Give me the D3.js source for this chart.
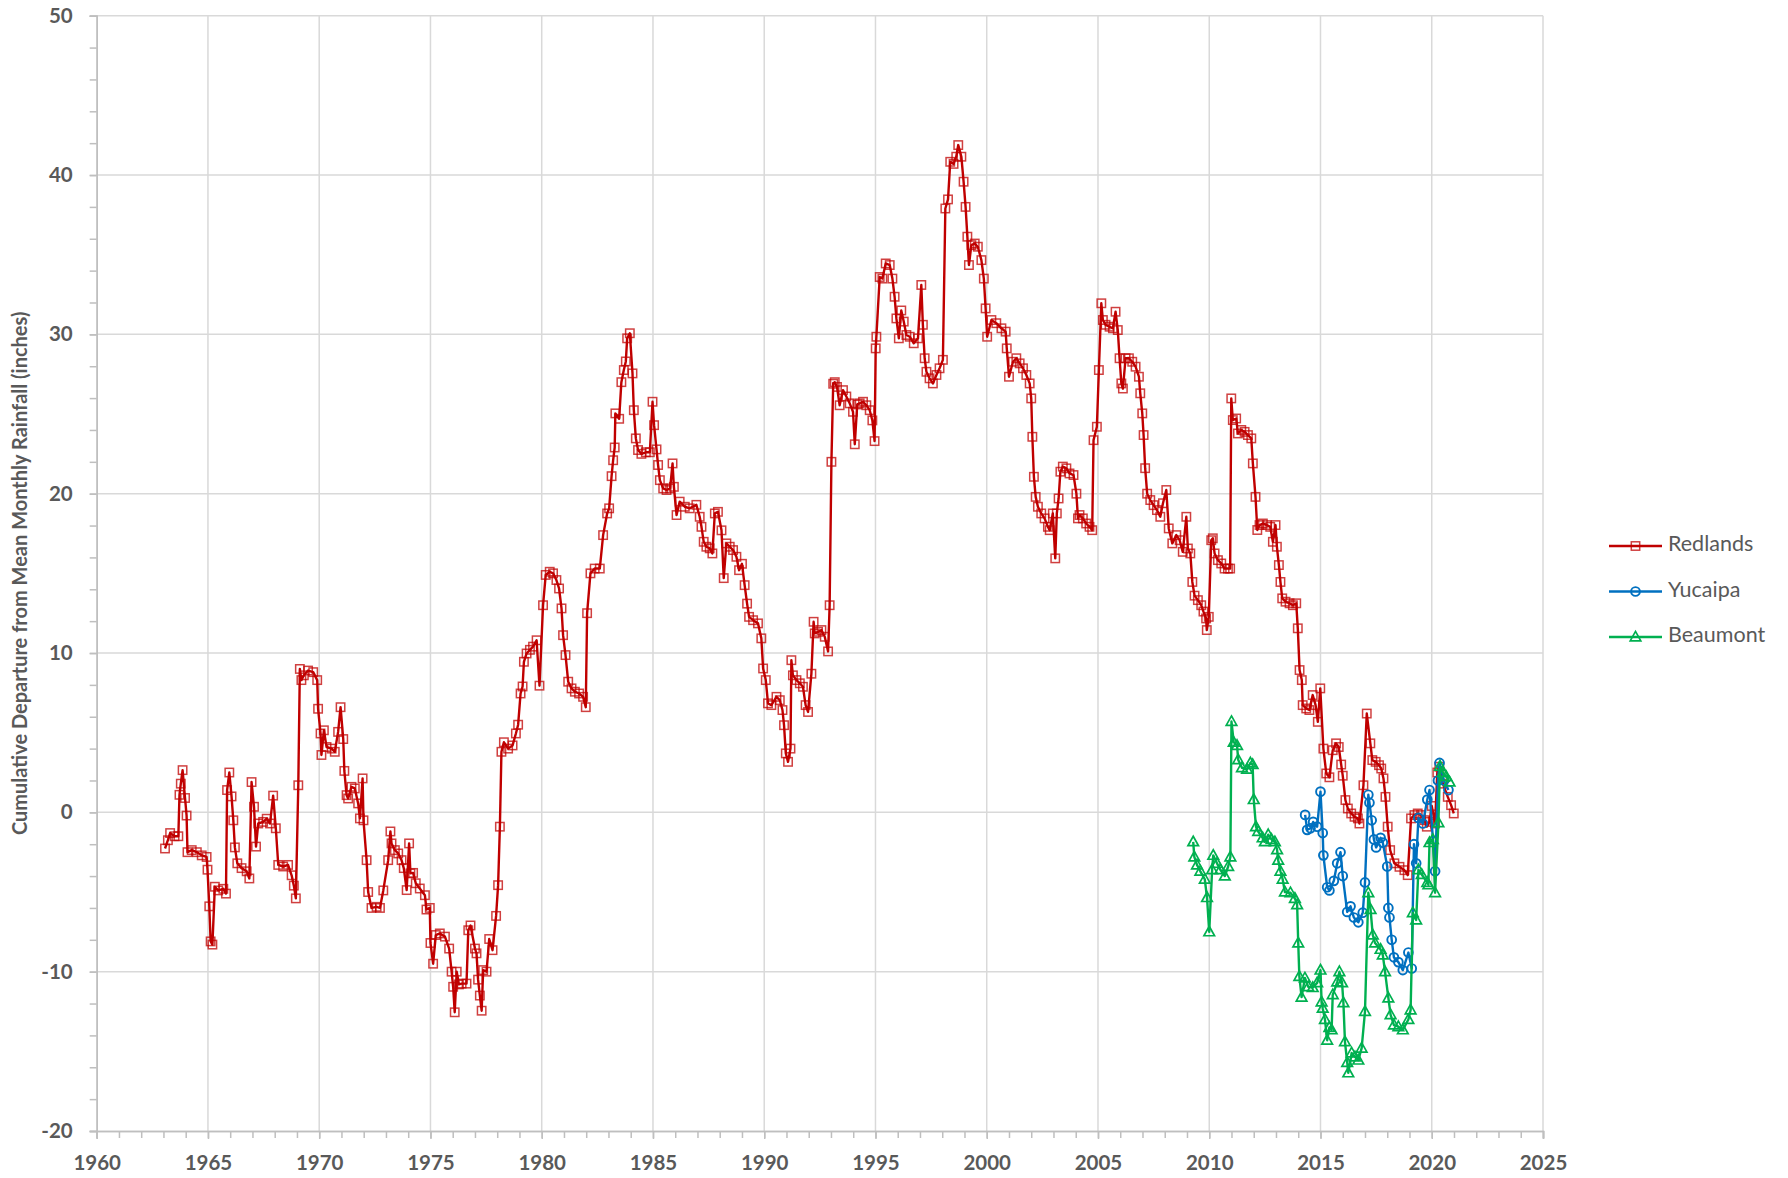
<!DOCTYPE html>
<html>
<head>
<meta charset="utf-8">
<script src="https://cdn.jsdelivr.net/npm/d3@7"></script>
<style>
  body { margin: 0; background: #fff; }
  text { font-family: Lato, "Open Sans", sans-serif; fill: #595959; }
  .axis text { font-weight: bold; font-size: 20.5px; }
  .axis path, .axis line { stroke: #BFBFBF; stroke-width: 1.5; }
  .grid line { stroke: #D9D9D9; stroke-width: 1.5; }
</style>
</head>
<body>
<div class="chart-container"></div>
<script>
// [year, cumulative departure (inches)]
const redlands = [
  [1963.07,-2.27],[1963.2,-1.75],[1963.3,-1.3],[1963.5,-1.5],[1963.67,-1.5],[1963.72,1.1],[1963.78,1.8],[1963.86,2.65],
  [1963.97,0.9],[1964.04,-0.2],[1964.08,-2.5],[1964.27,-2.37],[1964.5,-2.5],[1964.72,-2.7],[1964.94,-2.8],[1964.98,-3.6],
  [1965.06,-5.9],[1965.12,-8.1],[1965.2,-8.3],[1965.31,-4.67],[1965.46,-4.9],[1965.69,-4.8],[1965.81,-5.1],[1965.86,1.4],
  [1965.96,2.5],[1966.06,1.0],[1966.14,-0.5],[1966.21,-2.2],[1966.32,-3.2],[1966.51,-3.5],[1966.74,-3.7],[1966.86,-4.15],
  [1966.96,1.9],[1967.07,0.35],[1967.16,-2.15],[1967.26,-0.7],[1967.48,-0.6],[1967.64,-0.4],[1967.79,-0.7],[1967.93,1.05],
  [1968.05,-1.0],[1968.16,-3.3],[1968.38,-3.4],[1968.6,-3.3],[1968.76,-3.95],[1968.86,-4.6],[1968.95,-5.4],[1969.06,1.7],
  [1969.13,9.0],[1969.2,8.3],[1969.31,8.6],[1969.5,8.9],[1969.73,8.8],[1969.91,8.3],[1969.95,6.5],[1970.06,4.95],
  [1970.1,3.6],[1970.21,5.15],[1970.33,4.1],[1970.56,4.0],[1970.7,3.8],[1970.85,5.05],[1970.96,6.6],[1971.08,4.6],
  [1971.13,2.6],[1971.23,1.08],[1971.3,0.87],[1971.45,1.6],[1971.6,1.5],[1971.75,0.56],[1971.83,-0.38],[1971.95,2.13],
  [1971.99,-0.5],[1972.13,-3.0],[1972.2,-5.0],[1972.35,-6.0],[1972.58,-5.93],[1972.73,-6.0],[1972.88,-4.9],[1973.1,-3.0],
  [1973.2,-1.2],[1973.25,-1.95],[1973.4,-2.37],[1973.55,-2.58],[1973.7,-3.0],[1973.8,-3.5],[1973.93,-4.88],[1974.04,-1.95],
  [1974.1,-3.83],[1974.22,-3.8],[1974.34,-4.45],[1974.52,-4.78],[1974.75,-5.2],[1974.82,-6.1],[1974.97,-6.0],[1975.0,-8.2],
  [1975.12,-9.5],[1975.24,-7.7],[1975.42,-7.6],[1975.65,-7.8],[1975.84,-8.55],[1975.95,-10.0],[1976.02,-10.95],[1976.09,-12.55],
  [1976.18,-10.0],[1976.28,-10.8],[1976.4,-10.75],[1976.62,-10.75],[1976.7,-7.4],[1976.8,-7.1],[1977.0,-8.55],[1977.07,-8.85],
  [1977.14,-10.5],[1977.22,-11.5],[1977.3,-12.45],[1977.37,-9.9],[1977.52,-10.0],[1977.64,-7.95],[1977.79,-8.65],[1977.95,-6.5],
  [1978.04,-4.57],[1978.12,-0.9],[1978.19,3.8],[1978.3,4.4],[1978.49,4.0],[1978.69,4.2],[1978.84,4.95],[1978.94,5.5],
  [1979.05,7.46],[1979.14,7.9],[1979.2,9.45],[1979.32,9.97],[1979.47,10.2],[1979.61,10.4],[1979.77,10.8],[1979.9,7.95],
  [1980.06,13.0],[1980.18,14.9],[1980.36,15.1],[1980.51,15.0],[1980.66,14.58],[1980.78,14.05],[1980.89,12.8],[1980.96,11.12],
  [1981.07,9.87],[1981.19,8.2],[1981.34,7.78],[1981.49,7.57],[1981.68,7.46],[1981.86,7.25],[1981.98,6.6],[1982.04,12.5],
  [1982.19,15.0],[1982.38,15.3],[1982.61,15.3],[1982.76,17.4],[1982.94,18.76],[1983.03,19.08],[1983.14,21.1],[1983.21,22.1],
  [1983.28,22.9],[1983.31,25.04],[1983.48,24.7],[1983.58,27.0],[1983.69,27.76],[1983.78,28.3],[1983.84,29.75],[1983.96,30.07],
  [1984.08,27.55],[1984.14,25.24],[1984.23,23.47],[1984.33,22.74],[1984.48,22.5],[1984.68,22.6],[1984.86,22.6],[1984.98,25.77],
  [1985.05,24.3],[1985.16,22.78],[1985.23,21.8],[1985.31,20.85],[1985.46,20.33],[1985.61,20.23],[1985.77,20.33],[1985.88,21.9],
  [1985.94,20.43],[1986.06,18.66],[1986.2,19.5],[1986.43,19.18],[1986.65,19.08],[1986.95,19.3],[1987.1,18.55],[1987.18,17.92],
  [1987.28,16.98],[1987.4,16.67],[1987.55,16.57],[1987.67,16.25],[1987.78,18.76],[1987.92,18.86],[1988.08,17.7],[1988.18,14.7],
  [1988.3,16.88],[1988.45,16.67],[1988.6,16.46],[1988.75,16.04],[1988.87,15.2],[1989.0,15.6],[1989.12,14.26],[1989.23,13.1],
  [1989.32,12.27],[1989.5,12.06],[1989.72,11.86],[1989.87,10.92],[1989.95,9.03],[1990.07,8.3],[1990.17,6.84],[1990.32,6.73],
  [1990.55,7.25],[1990.7,7.04],[1990.82,6.42],[1990.89,5.47],[1990.97,3.7],[1991.07,3.17],[1991.18,4.0],[1991.22,9.55],
  [1991.29,8.6],[1991.45,8.3],[1991.6,8.1],[1991.74,7.88],[1991.86,6.73],[1991.97,6.3],[1992.12,8.7],[1992.22,11.96],
  [1992.27,11.23],[1992.42,11.33],[1992.57,11.44],[1992.72,11.02],[1992.87,10.1],[1992.94,13.0],[1993.02,22.0],[1993.1,26.9],
  [1993.17,27.0],[1993.27,26.7],[1993.39,25.55],[1993.54,26.5],[1993.69,26.1],[1993.84,25.67],[1993.99,25.14],[1994.07,23.1],
  [1994.18,25.6],[1994.29,25.67],[1994.44,25.77],[1994.59,25.55],[1994.74,25.24],[1994.86,24.6],[1994.96,23.3],[1995.01,29.12],
  [1995.04,29.85],[1995.19,33.6],[1995.31,33.5],[1995.46,34.45],[1995.64,34.35],[1995.76,33.5],[1995.86,32.36],[1995.94,31.0],
  [1996.05,29.75],[1996.16,31.5],[1996.27,30.8],[1996.39,29.96],[1996.54,29.85],[1996.72,29.44],[1996.91,29.75],[1997.06,33.1],
  [1997.13,30.6],[1997.21,28.5],[1997.29,27.65],[1997.43,27.24],[1997.58,26.92],[1997.74,27.45],[1997.88,27.87],[1998.03,28.4],
  [1998.14,37.9],[1998.26,38.47],[1998.36,40.83],[1998.51,40.7],[1998.63,41.15],[1998.72,41.88],[1998.86,41.15],[1998.96,39.58],
  [1999.05,38.0],[1999.13,36.13],[1999.2,34.35],[1999.31,35.6],[1999.46,35.7],[1999.6,35.5],[1999.76,34.66],[1999.87,33.5],
  [1999.95,31.63],[2000.02,29.85],[2000.21,30.9],[2000.43,30.7],[2000.66,30.38],[2000.85,30.17],[2000.9,29.12],[2001.0,27.34],
  [2001.18,28.28],[2001.33,28.5],[2001.48,28.18],[2001.63,27.87],[2001.78,27.45],[2001.93,26.92],[2002.0,25.98],[2002.05,23.57],
  [2002.12,21.06],[2002.2,19.8],[2002.3,19.18],[2002.45,18.76],[2002.6,18.45],[2002.75,17.92],[2002.83,17.71],[2002.97,18.76],
  [2003.08,15.94],[2003.15,18.76],[2003.23,19.7],[2003.31,21.38],[2003.42,21.7],[2003.58,21.59],[2003.72,21.27],[2003.9,21.17],
  [2004.03,20.0],[2004.1,18.45],[2004.17,18.66],[2004.32,18.45],[2004.47,18.13],[2004.62,17.92],[2004.74,17.71],[2004.8,23.36],
  [2004.95,24.2],[2005.04,27.76],[2005.15,31.95],[2005.22,30.9],[2005.34,30.6],[2005.52,30.48],[2005.67,30.38],[2005.79,31.42],
  [2005.89,30.27],[2005.97,28.5],[2006.05,26.92],[2006.12,26.6],[2006.24,28.5],[2006.39,28.5],[2006.54,28.28],[2006.69,27.97],
  [2006.84,27.34],[2006.9,26.3],[2006.99,25.04],[2007.05,23.68],[2007.12,21.6],[2007.21,20.0],[2007.35,19.6],[2007.5,19.28],
  [2007.65,18.97],[2007.8,18.55],[2007.92,19.4],[2008.07,20.23],[2008.18,17.82],[2008.34,16.88],[2008.52,17.4],[2008.67,17.08],
  [2008.81,16.35],[2008.97,18.55],[2009.04,16.56],[2009.15,16.25],[2009.24,14.46],[2009.34,13.6],[2009.49,13.32],[2009.64,13.0],
  [2009.74,12.6],[2009.86,12.17],[2009.89,11.44],[2009.98,12.27],[2010.09,17.08],[2010.16,17.2],[2010.24,16.25],[2010.39,15.83],
  [2010.54,15.62],[2010.69,15.3],[2010.84,15.3],[2010.94,15.3],[2010.99,25.98],[2011.06,24.62],[2011.21,24.72],[2011.29,23.78],
  [2011.44,24.0],[2011.59,23.88],[2011.74,23.68],[2011.89,23.47],[2011.96,21.9],[2012.08,19.8],[2012.16,17.72],[2012.26,18.03],
  [2012.41,18.13],[2012.59,18.03],[2012.74,17.92],[2012.86,16.98],[2012.98,18.03],[2013.04,16.67],[2013.13,15.52],[2013.2,14.46],
  [2013.28,13.43],[2013.43,13.22],[2013.61,13.12],[2013.76,13.0],[2013.91,13.12],[2013.98,11.55],[2014.06,8.93],[2014.16,8.3],
  [2014.2,6.73],[2014.36,6.52],[2014.5,6.42],[2014.65,7.36],[2014.78,6.73],[2014.88,5.68],[2014.99,7.78],[2015.13,4.0],
  [2015.26,2.44],[2015.4,2.2],[2015.55,3.9],[2015.7,4.33],[2015.82,4.1],[2015.93,3.0],[2016.0,2.3],[2016.12,0.77],
  [2016.23,0.24],[2016.38,-0.07],[2016.53,-0.28],[2016.68,-0.38],[2016.75,-0.7],[2016.93,1.7],[2017.08,6.2],[2017.24,4.33],
  [2017.33,3.28],[2017.48,3.17],[2017.63,2.96],[2017.73,2.75],[2017.83,2.13],[2017.92,0.97],[2018.02,-0.9],[2018.13,-2.37],
  [2018.32,-3.2],[2018.55,-3.42],[2018.77,-3.63],[2018.92,-3.94],[2019.07,-0.38],[2019.22,-0.17],[2019.37,-0.07],[2019.52,-0.17],
  [2019.67,-0.49],[2019.78,-0.9],[2019.9,-0.6],[2020.0,0.4],[2020.15,-0.7],[2020.25,2.5],[2020.34,2.86],[2020.5,1.8],
  [2020.72,0.97],[2020.87,0.45],[2020.99,-0.07]
];
const yucaipa = [
  [2014.31,-0.16],[2014.4,-1.1],[2014.55,-1.0],[2014.67,-0.6],[2014.85,-0.9],[2015.0,1.3],[2015.1,-1.3],[2015.13,-2.7],
  [2015.3,-4.7],[2015.4,-4.9],[2015.6,-4.3],[2015.75,-3.2],[2015.9,-2.5],[2016.0,-4.0],[2016.2,-6.25],[2016.35,-5.9],
  [2016.5,-6.6],[2016.7,-6.9],[2016.9,-6.3],[2017.0,-4.4],[2017.15,1.1],[2017.2,0.6],[2017.3,-0.5],[2017.4,-1.7],
  [2017.5,-2.2],[2017.7,-1.6],[2017.8,-1.9],[2018.0,-3.4],[2018.05,-6.0],[2018.1,-6.6],[2018.2,-8.0],[2018.3,-9.1],
  [2018.5,-9.4],[2018.7,-9.9],[2018.95,-8.8],[2019.1,-9.8],[2019.2,-2.0],[2019.3,-3.2],[2019.4,-0.35],[2019.6,-0.7],
  [2019.8,0.8],[2019.9,1.4],[2020.15,-3.7],[2020.28,2.0],[2020.35,3.1],[2020.55,2.0],[2020.75,1.4]
];
const beaumont = [
  [2009.28,-1.85],[2009.33,-2.8],[2009.45,-3.3],[2009.6,-3.7],[2009.8,-4.2],[2009.9,-5.35],[2010.0,-7.5],[2010.13,-3.6],
  [2010.18,-2.7],[2010.35,-3.2],[2010.5,-3.6],[2010.7,-4.0],[2010.85,-3.4],[2010.95,-2.8],[2011.0,5.7],[2011.1,4.4],
  [2011.25,4.2],[2011.3,3.3],[2011.47,2.8],[2011.7,2.7],[2011.85,3.1],[2011.95,3.0],[2012.0,0.8],[2012.1,-0.9],
  [2012.2,-1.2],[2012.4,-1.6],[2012.5,-1.85],[2012.65,-1.4],[2012.8,-1.7],[2012.95,-1.85],[2013.05,-2.35],[2013.1,-3.0],
  [2013.2,-3.7],[2013.3,-4.2],[2013.4,-5.0],[2013.65,-5.05],[2013.85,-5.4],[2013.95,-5.8],[2014.0,-8.2],[2014.05,-10.3],
  [2014.15,-11.6],[2014.3,-10.4],[2014.45,-10.95],[2014.65,-11.0],[2014.85,-10.7],[2015.0,-9.9],[2015.05,-11.9],[2015.1,-12.3],
  [2015.2,-13.0],[2015.3,-14.3],[2015.4,-13.5],[2015.5,-13.65],[2015.55,-11.45],[2015.75,-10.65],[2015.85,-10.0],[2015.97,-10.7],
  [2016.03,-11.95],[2016.1,-14.4],[2016.2,-15.7],[2016.25,-16.35],[2016.4,-15.1],[2016.55,-15.35],[2016.7,-15.55],[2016.85,-14.8],
  [2017.0,-12.5],[2017.15,-5.05],[2017.25,-6.1],[2017.35,-7.7],[2017.45,-8.2],[2017.7,-8.6],[2017.8,-8.95],[2017.9,-10.0],
  [2018.05,-11.65],[2018.15,-12.7],[2018.3,-13.35],[2018.5,-13.45],[2018.7,-13.65],[2018.95,-13.0],[2019.05,-12.4],[2019.15,-6.3],
  [2019.3,-6.75],[2019.4,-3.6],[2019.55,-3.9],[2019.8,-4.4],[2019.85,-4.55],[2019.9,-1.9],[2020.05,-1.7],[2020.15,-5.05],
  [2020.3,-0.65],[2020.37,2.9],[2020.5,2.5],[2020.65,2.25],[2020.8,1.9]
];
const seriesNames = ['Redlands', 'Yucaipa', 'Beaumont'];
const seriesColors = ['#C00000', '#0070C0', '#00B050'];
const xTicks = d3.range(1960, 2026, 5);
const yTicks = d3.range(-20, 51, 10);

const svg_width = 1788;
const svg_height = 1178;
const plot = {left: 96.7, right: 1543, top: 15.7, bottom: 1131};

const svg = d3.select('.chart-container').append('svg')
  .attr('width', svg_width).attr('height', svg_height);

const xScale = d3.scaleLinear().domain([1960, 2025]).range([plot.left, plot.right]);
const yScale = d3.scaleLinear().domain([-20, 50]).range([plot.bottom, plot.top]);

// grid lines
const grid = svg.append('g').attr('class', 'grid');
grid.selectAll('.vg').data(xTicks.slice(1)).join('line')
  .attr('x1', d => xScale(d)).attr('x2', d => xScale(d))
  .attr('y1', plot.top).attr('y2', plot.bottom);
grid.selectAll('.hg').data(yTicks.slice(1)).join('line')
  .attr('x1', plot.left).attr('x2', plot.right)
  .attr('y1', d => yScale(d)).attr('y2', d => yScale(d));

// minor ticks (no labels)
svg.append('g').attr('class', 'axis')
  .attr('transform', `translate(0,${plot.bottom})`)
  .call(d3.axisBottom(xScale).tickValues(d3.range(1960, 2026, 1)).tickSize(7).tickFormat(''));
svg.append('g').attr('class', 'axis')
  .attr('transform', `translate(${plot.left},0)`)
  .call(d3.axisLeft(yScale).tickValues(d3.range(-20, 51, 2)).tickSize(7).tickFormat(''));

// major axes (plain hyphen for negatives, like the original)
svg.append('g').attr('class', 'x axis')
  .attr('transform', `translate(0,${plot.bottom})`)
  .call(d3.axisBottom(xScale).tickValues(xTicks).tickSize(8).tickPadding(16).tickFormat(d => String(d)));
svg.append('g').attr('class', 'y axis')
  .attr('transform', `translate(${plot.left},0)`)
  .call(d3.axisLeft(yScale).tickValues(yTicks).tickSize(7).tickPadding(17).tickFormat(d => String(d)));

// y axis title
svg.append('text')
  .attr('transform', `translate(22,${(plot.top + plot.bottom) / 2}) rotate(-90)`)
  .attr('text-anchor', 'middle').attr('dominant-baseline', 'middle')
  .style('font-weight', 'bold').style('font-size', '20px')
  .text('Cumulative Departure from Mean Monthly Rainfall (inches)');

// marker shapes
function drawMarker(g, kind, color) {
  if (kind === 0) {
    g.append('rect').attr('x', -4.2).attr('y', -4.2).attr('width', 8.4).attr('height', 8.4)
      .attr('fill', 'none').attr('stroke', color).attr('stroke-width', 1.5).attr('stroke-opacity', 0.75);
  } else if (kind === 1) {
    g.append('circle').attr('r', 4.4)
      .attr('fill', 'none').attr('stroke', color).attr('stroke-width', 1.9);
  } else {
    g.append('path').attr('d', 'M0,-5.6L5.3,3.9L-5.3,3.9Z')
      .attr('fill', 'none').attr('stroke', color).attr('stroke-width', 1.7);
  }
}

const line = d3.line().x(d => xScale(d[0])).y(d => yScale(d[1]));

[redlands, yucaipa, beaumont].forEach((data, i) => {
  const g = svg.append('g').attr('class', 'series');
  g.append('path').datum(data)
    .attr('d', line).attr('fill', 'none')
    .attr('stroke', seriesColors[i]).attr('stroke-width', 2.4).attr('stroke-linejoin', 'round');
  g.selectAll('.mk').data(data).join('g')
    .attr('transform', d => `translate(${xScale(d[0])},${yScale(d[1])})`)
    .each(function() { drawMarker(d3.select(this), i, seriesColors[i]); });
});

// legend
const legend = svg.append('g').attr('transform', 'translate(1609,546)');
seriesNames.forEach((name, i) => {
  const item = legend.append('g').attr('transform', `translate(0,${i * 45.5})`);
  item.append('line').attr('x1', 0).attr('x2', 53)
    .attr('stroke', seriesColors[i]).attr('stroke-width', 2.4);
  drawMarker(item.append('g').attr('transform', 'translate(26.5,0)'), i, seriesColors[i]);
  item.append('text').attr('x', 59).attr('dominant-baseline', 'middle')
    .style('font-size', '21.5px').text(name);
});
</script>
</body>
</html>
